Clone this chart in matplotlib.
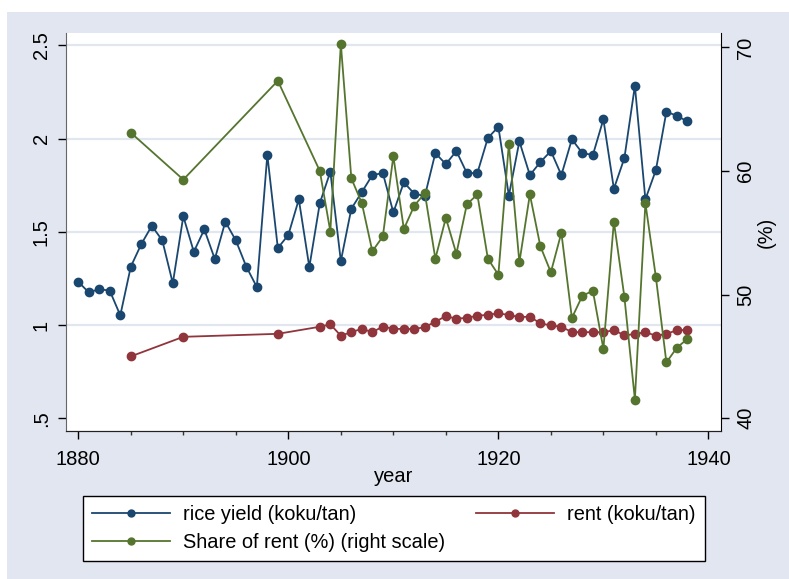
import matplotlib
matplotlib.use('Agg')
import matplotlib.pyplot as plt
from matplotlib.patches import Rectangle
from matplotlib.lines import Line2D

plt.rcParams['font.family'] = ['Liberation Sans', 'DejaVu Sans']

# ---------------- data ----------------
years_yield = list(range(1880, 1939))
rice_yield = [1.232, 1.175, 1.193, 1.184, 1.052, 1.313, 1.434, 1.532, 1.454, 1.224,
              1.583, 1.393, 1.513, 1.354, 1.554, 1.454, 1.313, 1.204, 1.913, 1.413,
              1.483, 1.674, 1.311, 1.654, 1.822, 1.343, 1.624, 1.713, 1.804, 1.815,
              1.604, 1.765, 1.704, 1.692, 1.922, 1.863, 1.933, 1.815, 1.815, 2.003,
              2.063, 1.694, 1.985, 1.804, 1.874, 1.933, 1.804, 1.996, 1.922, 1.912,
              2.103, 1.731, 1.895, 2.283, 1.674, 1.831, 2.144, 2.122, 2.092]

years_rent = [1885, 1890, 1899] + list(range(1903, 1939))
rent = [0.832, 0.937, 0.953,
        0.991, 1.004, 0.943, 0.962, 0.980, 0.962, 0.992,
        0.980, 0.979, 0.979, 0.989, 1.018, 1.048, 1.034, 1.039, 1.050, 1.055,
        1.063, 1.054, 1.043, 1.045, 1.009, 0.998, 0.991, 0.962, 0.962, 0.962,
        0.961, 0.973, 0.945, 0.952, 0.962, 0.943, 0.952, 0.973, 0.973]
share = [63.1, 59.3, 67.3,
         60.0, 55.1, 70.3, 59.4, 57.4, 53.5, 54.7,
         61.2, 55.3, 57.2, 58.2, 52.9, 56.2, 53.3, 57.3, 58.1, 52.9,
         51.6, 62.2, 52.6, 58.1, 53.9, 51.8, 55.0, 48.1, 49.9, 50.3,
         45.6, 55.9, 49.8, 41.5, 57.4, 51.4, 44.5, 45.7, 46.4]

left_ticks = [0.5, 1, 1.5, 2, 2.5]
left_labels = ['.5', '1', '1.5', '2', '2.5']
right_ticks = [40, 50, 60, 70]
right_labels = ['40', '50', '60', '70']
x_ticks = [1880, 1900, 1920, 1940]
x_minor = [1885, 1890, 1895, 1905, 1910, 1915, 1925, 1930, 1935]

lab_yield = 'rice yield (koku/tan)'
lab_rent = 'rent (koku/tan)'
lab_share = 'Share of rent (%) (right scale)'

# ---------------- style ----------------
BG = '#E2E6F0'
GRID = '#E1E6EF'
C_BLUE = '#1A476F'
C_RED = '#90353B'
C_GREEN = '#55752F'
W, H = 789, 579

fig = plt.figure(figsize=(W / 100, H / 100), dpi=100, facecolor='white')
fig.patches.append(Rectangle((7 / W, 0), 1, (H - 12) / H, transform=fig.transFigure,
                             facecolor=BG, edgecolor='none', zorder=-10))

l, r, t, b = 66, 721, 33, 431
ax = fig.add_axes([l / W, (H - b) / H, (r - l) / W, (b - t) / H])
ax.set_facecolor('white')
ax2 = ax.twinx()

lw = 1.3
ms = 6
ax.plot(years_yield, rice_yield, '-o', color=C_BLUE, lw=lw, ms=ms, zorder=3)
ax.plot(years_rent, rent, '-o', color=C_RED, lw=lw, ms=ms, zorder=3)
ax2.plot(years_rent, share, '-o', color=C_GREEN, lw=lw, ms=ms, zorder=3)

ax.set_xlim(1878.83, 1941.2)
ax.set_ylim(0.432, 2.566)
ax2.set_ylim(38.95, 71.17)

ax.set_xticks(x_ticks)
ax.set_xticks(x_minor, minor=True)
ax.set_yticks(left_ticks)
ax.set_yticklabels(left_labels)
ax2.set_yticks(right_ticks)
ax2.set_yticklabels(right_labels)

fs = 14.5
ax.tick_params(axis='x', which='major', length=6, width=1, labelsize=fs, pad=7.5, colors='black')
ax.tick_params(axis='x', which='minor', length=3, width=1, color='#333333')
ax.tick_params(axis='y', which='major', length=6, width=1, labelsize=fs, pad=5,
               labelrotation=90)
ax2.tick_params(axis='y', which='major', length=6, width=1, labelsize=fs, pad=5,
                labelrotation=90)
for lab in ax.get_yticklabels():
    lab.set_va('center')
for lab in ax2.get_yticklabels():
    lab.set_va('center')

ax.grid(axis='y', color=GRID, lw=1.6, zorder=0)
ax.set_axisbelow(True)
ax.yaxis.get_gridlines()[0].set_visible(False)

for a in (ax, ax2):
    a.spines['top'].set_visible(False)
    a.spines['bottom'].set_color('#222222')
    a.spines['right'].set_color('black')
    a.spines['left'].set_color('#666666')
ax2.spines['left'].set_visible(False)
ax.spines['right'].set_visible(False)

ax.set_xlabel('year', fontsize=fs, labelpad=-1)
ax2.set_ylabel('(%)', fontsize=fs, rotation=90, labelpad=1)

# legend (row-major: rice, rent / share)
h_yield = Line2D([], [], color=C_BLUE, lw=lw, marker='o', ms=5)
h_rent = Line2D([], [], color=C_RED, lw=lw, marker='o', ms=5)
h_share = Line2D([], [], color=C_GREEN, lw=lw, marker='o', ms=5)
leg = fig.legend([h_yield, h_share, h_rent], [lab_yield, lab_share, lab_rent],
                 ncol=2, loc='upper left', bbox_to_anchor=(83 / W, 1 - 496 / H),
                 bbox_transform=fig.transFigure, borderaxespad=0,
                 fontsize=14.4, frameon=True, fancybox=False, framealpha=1,
                 edgecolor='black', facecolor='white', handlelength=3.9,
                 handletextpad=0.65, columnspacing=1.55, labelspacing=0.45,
                 borderpad=0.45)
leg.get_frame().set_linewidth(1.0)

fig.savefig('out.png', dpi=100, facecolor=fig.get_facecolor())
